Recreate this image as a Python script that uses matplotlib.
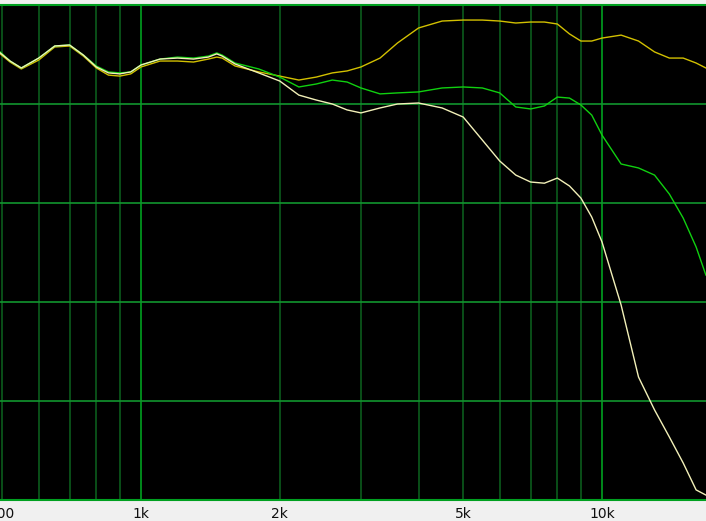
import numpy as np
import matplotlib
matplotlib.use("Agg")
import matplotlib.pyplot as plt

# frequency points (Hz) shared by the three traces
freqs = [495, 520, 550, 600, 650, 700, 750, 800, 850, 900, 950, 1000,
         1100, 1200, 1300, 1400, 1460, 1500, 1600, 1800, 2000, 2200, 2400,
         2600, 2800, 3000, 3300, 3600, 4000, 4500, 5000, 5500, 6000, 6500,
         7000, 7500, 8000, 8500, 9000, 9500, 10000, 11000, 12000, 13000,
         14000, 15000, 16000, 16800]

# levels in dB (one gridline = 5 dB)
yellow_db = [2.53, 2.12, 1.77, 2.22, 2.88, 2.93, 2.42, 1.82, 1.46, 1.41,
             1.52, 1.87, 2.17, 2.17, 2.12, 2.27, 2.37, 2.32, 1.92, 1.62,
             1.41, 1.21, 1.36, 1.57, 1.67, 1.87, 2.32, 3.08, 3.84, 4.19,
             4.24, 4.24, 4.19, 4.09, 4.14, 4.14, 4.04, 3.54, 3.18, 3.18,
             3.33, 3.48, 3.18, 2.63, 2.32, 2.32, 2.07, 1.82]
green_db = [2.63, 2.17, 1.82, 2.32, 2.93, 2.98, 2.47, 1.92, 1.62, 1.57,
            1.62, 1.97, 2.27, 2.37, 2.32, 2.42, 2.58, 2.47, 2.07, 1.77,
            1.36, 0.86, 1.01, 1.21, 1.11, 0.81, 0.51, 0.56, 0.61, 0.81,
            0.86, 0.81, 0.56, -0.15, -0.25, -0.10, 0.35, 0.30, -0.05,
            -0.56, -1.57, -3.03, -3.23, -3.59, -4.55, -5.76, -7.22, -8.64]
white_db = [2.58, 2.17, 1.82, 2.32, 2.93, 2.98, 2.47, 1.87, 1.57, 1.52,
            1.62, 1.97, 2.27, 2.32, 2.27, 2.37, 2.53, 2.42, 2.02, 1.57,
            1.16, 0.45, 0.20, 0.00, -0.30, -0.45, -0.20, 0.00, 0.05,
            -0.20, -0.66, -1.82, -2.88, -3.59, -3.94, -4.00, -3.74, -4.14,
            -4.75, -5.71, -6.97, -10.15, -13.79, -15.45, -16.82, -18.13,
            -19.49, -19.75]

tick_freqs = [500, 1000, 2000, 5000, 10000]
tick_labels = ["500", "1k", "2k", "5k", "10k"]
grid_freqs = [500, 600, 700, 800, 900, 1000, 2000, 3000, 4000, 5000,
              6000, 7000, 8000, 9000, 10000]
level_lines = [0, -5, -10, -15]

fig = plt.figure(figsize=(7.06, 5.21), dpi=100, facecolor="#f0f0f0")
ax = fig.add_axes([0, 21 / 521, 1, 495 / 521])
ax.set_facecolor("black")
ax.set_xscale("log")
ax.set_xlim(494.5, 16810)
ax.set_ylim(-20, 5)

for f in grid_freqs:
    major = f in (1000, 10000)
    ax.axvline(f, color="#00a020" if major else "#0b5c1c", lw=1.2, zorder=1)
for lv in level_lines:
    ax.axhline(lv, color="#11952e", lw=1.2, zorder=1)

ax.plot(freqs, yellow_db, color="#d2c000", lw=1.0, zorder=3)
ax.plot(freqs, green_db, color="#10d010", lw=1.0, zorder=4)
ax.plot(freqs, white_db, color="#f2f0b8", lw=1.0, zorder=5)

ax.set_xticks(tick_freqs)
ax.set_xticklabels(tick_labels, fontsize=10, color="#101010")
ax.xaxis.set_minor_locator(matplotlib.ticker.NullLocator())
ax.tick_params(axis="x", length=0, pad=5)
ax.set_yticks([])

for side in ("left", "right"):
    ax.spines[side].set_visible(False)
for side in ("top", "bottom"):
    ax.spines[side].set_color("#00a020")
    ax.spines[side].set_linewidth(1.5)

fig.savefig("out.png", dpi=100, facecolor=fig.get_facecolor())
